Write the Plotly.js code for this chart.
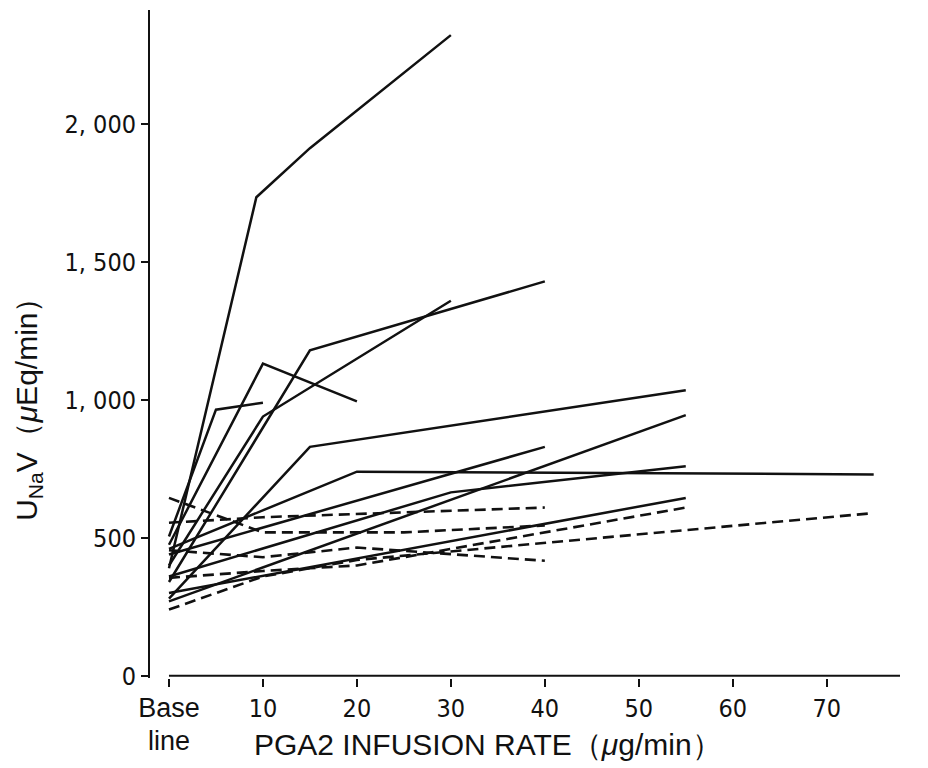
<!DOCTYPE html>
<html>
<head>
<meta charset="utf-8">
<script src="https://cdn.plot.ly/plotly-3.0.1.min.js"></script>
<style>html,body{margin:0;padding:0;background:#fff;}#chart{width:928px;height:768px;}</style>
</head>
<body>
<div id="chart"></div>
<script>
// Tick labels
const xTickVals = [0, 10, 20, 30, 40, 50, 60, 70];
const xTickText = ["<span style=\"font-size:27px;font-family:'Liberation Sans'\">Base<br>line</span>", "10", "20", "30", "40", "50", "60", "70"];
const yTickVals = [0, 500, 1000, 1500, 2000];
const yTickText = ["0", "500", "1, 000", "1, 500", "2, 000"];

// Solid lines (individual responses), x = infusion rate (0 = baseline), y = UNaV
const solidA_x = [0, 9.3, 15, 30];   const solidA_y = [390, 1735, 1913, 2323];
const solidB_x = [0, 5, 10];         const solidB_y = [505, 965, 990];
const solidC_x = [0, 10, 20];        const solidC_y = [475, 1132, 995];
const solidD_x = [0, 15, 40];        const solidD_y = [340, 1180, 1430];
const solidE_x = [0, 10, 30];        const solidE_y = [400, 940, 1360];
const solidF_x = [0, 15, 55];        const solidF_y = [280, 830, 1035];
const solidG_x = [0, 20, 75];        const solidG_y = [460, 740, 730];
const solidH_x = [0, 40];            const solidH_y = [440, 830];
const solidI_x = [0, 55];            const solidI_y = [270, 945];
const solidJ_x = [0, 30, 55];        const solidJ_y = [360, 665, 760];
const solidK_x = [0, 55];            const solidK_y = [300, 645];

// Dashed lines
const dashA_x = [0, 10, 40];         const dashA_y = [555, 575, 610];
const dashB_x = [0, 10, 25, 40];     const dashB_y = [645, 520, 520, 545];
const dashC_x = [0, 10, 20, 40];     const dashC_y = [455, 430, 465, 417];
const dashD_x = [0, 10, 20, 55];     const dashD_y = [355, 380, 400, 610];
const dashE_x = [0, 10, 20, 75];     const dashE_y = [240, 360, 420, 590];

const solids = [
  [solidA_x, solidA_y], [solidB_x, solidB_y], [solidC_x, solidC_y], [solidD_x, solidD_y],
  [solidE_x, solidE_y], [solidF_x, solidF_y], [solidG_x, solidG_y], [solidH_x, solidH_y],
  [solidI_x, solidI_y], [solidJ_x, solidJ_y], [solidK_x, solidK_y]
];
const dashes = [
  [dashA_x, dashA_y], [dashB_x, dashB_y], [dashC_x, dashC_y], [dashD_x, dashD_y], [dashE_x, dashE_y]
];

const traces = [];
solids.forEach(s => traces.push({
  x: s[0], y: s[1], type: 'scatter', mode: 'lines',
  line: {color: '#111', width: 2.5}, hoverinfo: 'skip', showlegend: false
}));
dashes.forEach(s => traces.push({
  x: s[0], y: s[1], type: 'scatter', mode: 'lines',
  line: {color: '#111', width: 2.6, dash: '11px,6px'}, hoverinfo: 'skip', showlegend: false
}));

const tickFont = {family: 'DejaVu Sans Condensed, Liberation Sans Narrow, Roboto, sans-serif', size: 25, color: '#111'};
const xMax = 77.8;

const layout = {
  width: 928, height: 768,
  margin: {l: 150, r: 28, t: 10, b: 90},
  paper_bgcolor: '#fff', plot_bgcolor: '#fff',
  showlegend: false,
  xaxis: {
    range: [-2.02, xMax], showgrid: false, zeroline: false, showline: false,
    tickmode: 'array', tickvals: xTickVals, ticktext: xTickText,
    ticks: 'outside', ticklen: 8, tickwidth: 1.8, tickcolor: '#111',
    tickfont: tickFont
  },
  yaxis: {
    range: [-8, 2414], showgrid: false, zeroline: false,
    showline: true, linecolor: '#111', linewidth: 2,
    tickmode: 'array', tickvals: yTickVals, ticktext: yTickText,
    ticks: 'outside', ticklen: 7, tickwidth: 1.8, tickcolor: '#111',
    tickfont: tickFont
  },
  shapes: [
    {type: 'line', xref: 'x', yref: 'y', x0: 0, x1: xMax, y0: 0, y1: 0,
     line: {color: '#111', width: 2}}
  ],
  annotations: [
    {text: 'PGA2 INFUSION RATE（<i>μ</i>g/min）', xref: 'paper', yref: 'paper',
     x: 0.45, y: -0.1, xanchor: 'center', yanchor: 'middle', showarrow: false,
     font: {family: 'Liberation Sans, Arial, sans-serif', size: 30, color: '#111'}},
    {text: 'U<sub>Na</sub>V（<i>μ</i>Eq/min）', xref: 'paper', yref: 'paper',
     x: -0.163, y: 0.413, xanchor: 'center', yanchor: 'middle', textangle: -90, showarrow: false,
     font: {family: 'Liberation Sans, Arial, sans-serif', size: 30, color: '#111'}}
  ]
};

Plotly.newPlot('chart', traces, layout, {staticPlot: true, displayModeBar: false});
</script>
</body>
</html>
